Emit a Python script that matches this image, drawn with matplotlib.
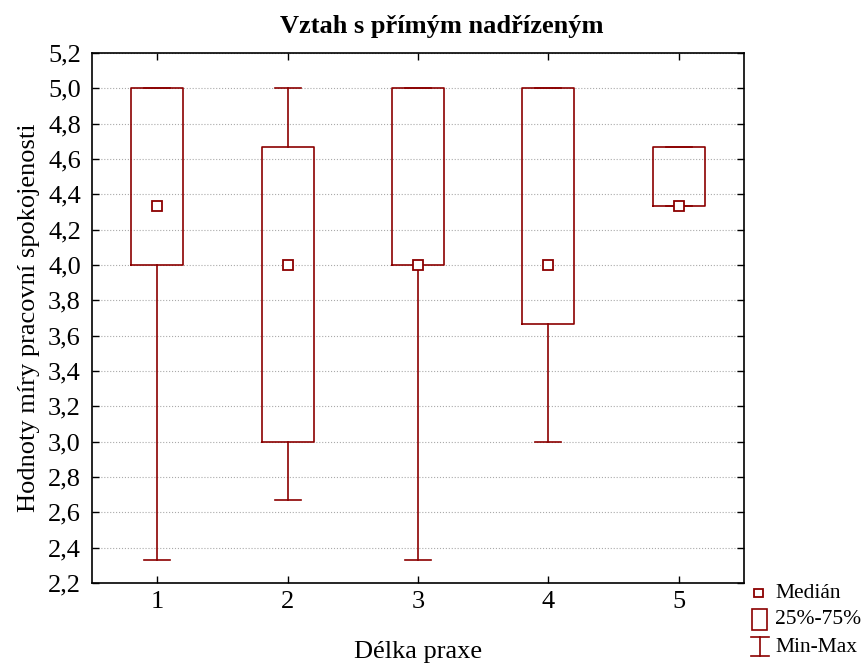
import matplotlib.pyplot as plt
from matplotlib.lines import Line2D
from matplotlib.patches import Rectangle
from matplotlib.ticker import FuncFormatter, MultipleLocator

# statistiky pro kazdou skupinu delky praxe
skupiny = [1, 2, 3, 4, 5]
minima = [2.333, 2.667, 2.333, 3.0, 4.333]
q1 = [4.0, 3.0, 4.0, 3.667, 4.333]
mediany = [4.333, 4.0, 4.0, 4.0, 4.333]
q3 = [5.0, 4.667, 5.0, 5.0, 4.667]
maxima = [5.0, 5.0, 5.0, 5.0, 4.667]

barva = '#8B0000'
plt.rcParams['font.family'] = ['Liberation Serif', 'DejaVu Serif']

fig = plt.figure(figsize=(8.66, 6.64), dpi=100)
ax = fig.add_axes([92 / 866, 1 - 583 / 664, (744 - 92) / 866, (583 - 53) / 664])

stats = []
for i in range(len(skupiny)):
    stats.append({'whislo': minima[i], 'q1': q1[i], 'med': mediany[i],
                  'q3': q3[i], 'whishi': maxima[i]})

ax.bxp(stats, positions=skupiny, widths=0.4, showfliers=False,
       boxprops=dict(color=barva, linewidth=1.2),
       whiskerprops=dict(color=barva, linewidth=1.2),
       capprops=dict(color=barva, linewidth=1.2),
       medianprops=dict(linewidth=0), capwidths=0.2, zorder=3)
ax.plot(skupiny, mediany, 's', ms=6.5, mfc='white', mec=barva, mew=1.3,
        ls='none', zorder=4)

ax.set_xlim(0.5, 5.5)
ax.set_ylim(2.2, 5.2)
ax.set_xticks(skupiny)
ax.yaxis.set_major_locator(MultipleLocator(0.2))
ax.yaxis.set_major_formatter(FuncFormatter(lambda v, p: f'{v:.1f}'.replace('.', ',')))
ax.tick_params(direction='in', length=5, width=1, labelsize=19,
               top=True, right=True, pad=8)
ax.tick_params(axis='x', pad=6)
ax.grid(axis='y', linestyle=':', color='#aaaaaa', linewidth=0.8, zorder=0)
for s in ax.spines.values():
    s.set_linewidth(1.2)

# nadpis je vycentrovany na cely obrazek vcetne legendy
fig.text(442 / 866, 1 - 26 / 664, 'Vztah s přímým nadřízeným', fontsize=19,
         fontweight='bold', ha='center', va='center')
ax.set_xlabel('Délka praxe', fontsize=19, labelpad=20)
ax.set_ylabel('Hodnoty míry pracovní spokojenosti', fontsize=19, labelpad=6)

# legenda mimo graf vpravo dole (v pixelech obrazku)
def px(x, y):
    return x / 866, 1 - y / 664

tr = fig.transFigure
x0, y0 = px(754, 597)
x1, y1 = px(763, 589)
fig.add_artist(Rectangle((x0, y0), x1 - x0, y1 - y0, transform=tr,
                         facecolor='white', edgecolor=barva, lw=1.3))
x0, y0 = px(752, 630)
x1, y1 = px(767, 609)
fig.add_artist(Rectangle((x0, y0), x1 - x0, y1 - y0, transform=tr,
                         facecolor='white', edgecolor=barva, lw=1.2))
for yy in (637, 656):
    a, b = px(751, yy)
    c, d = px(769, yy)
    fig.add_artist(Line2D([a, c], [b, d], transform=tr, color=barva, lw=1.2))
a, b = px(760, 637)
c, d = px(760, 656)
fig.add_artist(Line2D([a, c], [b, d], transform=tr, color=barva, lw=1.2))

for txt, yy in (('Medián', 594), ('25%-75%', 620), ('Min-Max', 647)):
    xx, yv = px(775, yy)
    fig.text(xx, yv, txt, fontsize=15.5, va='center', ha='left')

fig.savefig('out.png', dpi=100)
